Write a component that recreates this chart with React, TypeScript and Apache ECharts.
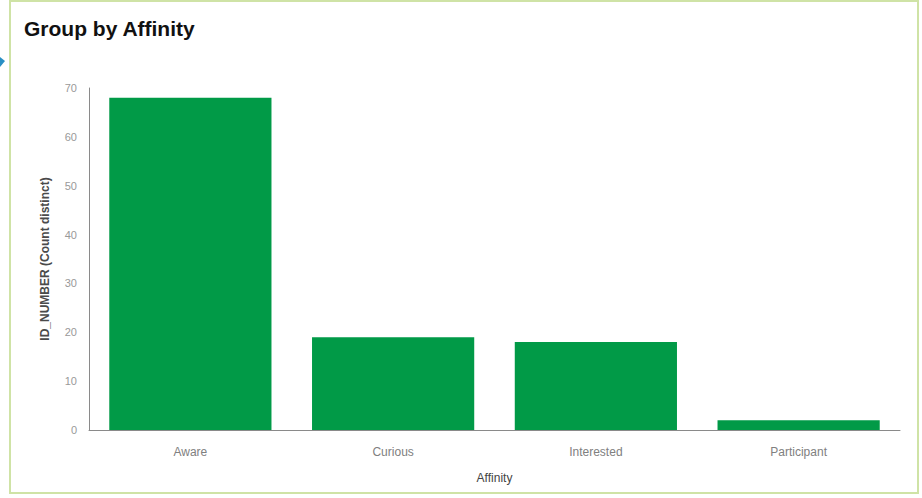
import React, { useEffect, useRef } from "react";
import * as echarts from "echarts";

const categories = ["Aware", "Curious", "Interested", "Participant"];
const counts = [68, 19, 18, 2];
const yTicks = { min: 0, max: 70, interval: 10 };

export default function App() {
  const ref = useRef<HTMLDivElement>(null);

  useEffect(() => {
    if (!ref.current) return;
    const chart = echarts.init(ref.current, undefined, { renderer: "svg" });
    chart.setOption({
      animation: false,
      backgroundColor: "#ffffff",
      title: {
        text: "Group by Affinity",
        left: 19,
        top: 13,
        textStyle: {
          fontFamily: "Liberation Sans, Arial, sans-serif",
          fontWeight: "bold",
          fontSize: 21,
          color: "#111111",
          letterSpacing: 0.9,
        },
      },
      graphic: [
        {
          type: "rect",
          shape: { x: 10, y: 1, width: 908, height: 492 },
          style: { fill: "none", stroke: "#cfe3a6", lineWidth: 2 },
          silent: true,
        },
        {
          type: "polygon",
          shape: { points: [[0, 57], [5, 61], [0, 67]] },
          style: { fill: "#2a8fc4" },
          silent: true,
        },
      ],
      grid: { left: 89, right: 22, top: 88, bottom: 68, containLabel: false },
      xAxis: {
        type: "category",
        data: categories,
        name: "Affinity",
        nameLocation: "middle",
        nameGap: 42,
        nameTextStyle: {
          fontFamily: "Liberation Sans, Arial, sans-serif",
          fontSize: 12,
          color: "#444444",
        },
        axisLine: { lineStyle: { color: "#8a8a8a", width: 1 } },
        axisTick: { show: false },
        axisLabel: {
          margin: 16,
          fontFamily: "Liberation Sans, Arial, sans-serif",
          fontSize: 12,
          color: "#808080",
        },
      },
      yAxis: {
        type: "value",
        min: yTicks.min,
        max: yTicks.max,
        interval: yTicks.interval,
        name: "ID_NUMBER (Count distinct)",
        nameLocation: "middle",
        nameGap: 38,
        nameRotate: 90,
        nameTextStyle: {
          fontFamily: "Liberation Sans, Arial, sans-serif",
          fontSize: 12,
          fontWeight: "bold",
          color: "#4a4a4a",
        },
        axisLine: { show: true, lineStyle: { color: "#8a8a8a", width: 1 } },
        axisTick: { show: false },
        splitLine: { show: false },
        axisLabel: {
          margin: 12,
          fontFamily: "Liberation Sans, Arial, sans-serif",
          fontSize: 11,
          color: "#999999",
        },
      },
      series: [
        {
          type: "bar",
          data: counts,
          barWidth: "80%",
          itemStyle: { color: "#019a47" },
        },
      ],
    });
    return () => chart.dispose();
  }, []);

  return (
    <div
      ref={ref}
      style={{ position: "absolute", left: 0, top: 0, width: 922, height: 498 }}
    />
  );
}
